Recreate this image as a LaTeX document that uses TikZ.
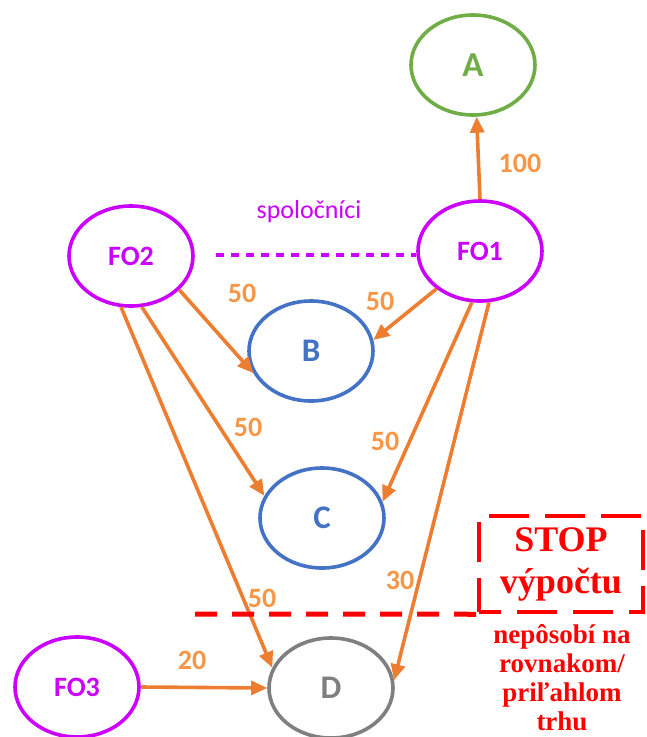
\documentclass[tikz,border=0pt]{standalone}
\usepackage{fontspec}
\setmainfont{Carlito}
\newfontfamily\serifred{Liberation Serif}
\usetikzlibrary{shapes.geometric,arrows.meta}
\definecolor{arrorange}{HTML}{ED7D31}
\definecolor{lblorange}{HTML}{F79646}
\definecolor{fopurple}{HTML}{CC00FF}
\definecolor{agreen}{HTML}{70AD47}
\definecolor{bblue}{HTML}{4472C4}
\definecolor{dgray}{HTML}{7F7F7F}
\definecolor{stopred}{HTML}{FF0000}
\tikzset{
  ell/.style={ellipse, draw, line width=3.6pt, minimum width=124pt, minimum height=100pt, inner sep=0pt, font=\bfseries\fontsize{33}{36}\selectfont},
  fo/.style={ell, draw=fopurple, text=fopurple, font=\bfseries\fontsize{28}{30}\selectfont},
  flow/.style={draw=arrorange, line width=3.6pt, -{Triangle[length=16pt,width=14pt]}},
  amt/.style={text=lblorange, font=\bfseries\fontsize{28}{30}\selectfont, inner sep=0pt},
  redtxt/.style={text=stopred, font=\serifred\bfseries\fontsize{27}{29}\selectfont, align=center, inner sep=0pt},
}
\begin{document}
\begin{tikzpicture}[x=1pt,y=-1pt]
\useasboundingbox (0,0) rectangle (646,737);
\node[ell, draw=agreen, text=agreen, font=\bfseries\fontsize{35}{38}\selectfont] (A) at (473,65) {A};
\node[fo] (FO1) at (480,251) {FO1};
\node[fo] (FO2) at (131,256) {FO2};
\node[fo] (FO3) at (77,687) {FO3};
\node[ell, draw=bblue, text=bblue] (B) at (311,351) {B};
\node[ell, draw=bblue, text=bblue] (C) at (322,518) {C};
\node[ell, draw=dgray, text=dgray] (D) at (331,688) {D};

\draw[flow] (FO1.north) -- (A.-86);
\draw[flow] (FO2.-35) -- (B.-159);
\draw[flow] (FO1.-139) -- (B.10);
\draw[flow] (FO2.-78) -- (C.159);
\draw[flow] (FO1.-99) -- (C.15);
\draw[flow] (FO2.-101) -- (D.161);
\draw[flow] (FO1.-80) -- (D.7);
\draw[flow] (FO3.east) -- (D.west);

\coordinate (dl) at (216,255);
\draw[fopurple, line width=3.5pt, dash pattern=on 8pt off 7pt] (dl) -- (dl -| FO1.west);
\node[text=fopurple, font=\fontsize{26}{28}\selectfont] (spol) at (309,212) {spoločníci};

\node[amt] (l100) at (520,163) {100};
\node[amt] (l50a) at (242,293) {50};
\node[amt] (l50b) at (380,301) {50};
\node[amt] (l50c) at (248,427) {50};
\node[amt] (l50d) at (385,441) {50};
\node[amt] (l50e) at (262,598) {50};
\node[amt] (l30) at (400,580) {30};
\node[amt] (l20) at (192,660) {20};

\node[draw=stopred, line width=4.5pt, dash pattern=on 40pt off 16pt, dash phase=18pt, minimum width=164pt, minimum height=96pt, inner sep=0pt, redtxt, font=\serifred\bfseries\fontsize{36}{42}\selectfont] (stop) at (561,564) {STOP\\výpočtu};
\coordinate (rs) at (195,614);
\draw[stopred, line width=5pt, dash pattern=on 22pt off 15pt] (rs) -- (stop.south west);
\node[redtxt] (note) at (562,678) {nepôsobí na\\rovnakom/\\priľahlom\\trhu};
\end{tikzpicture}
\end{document}
